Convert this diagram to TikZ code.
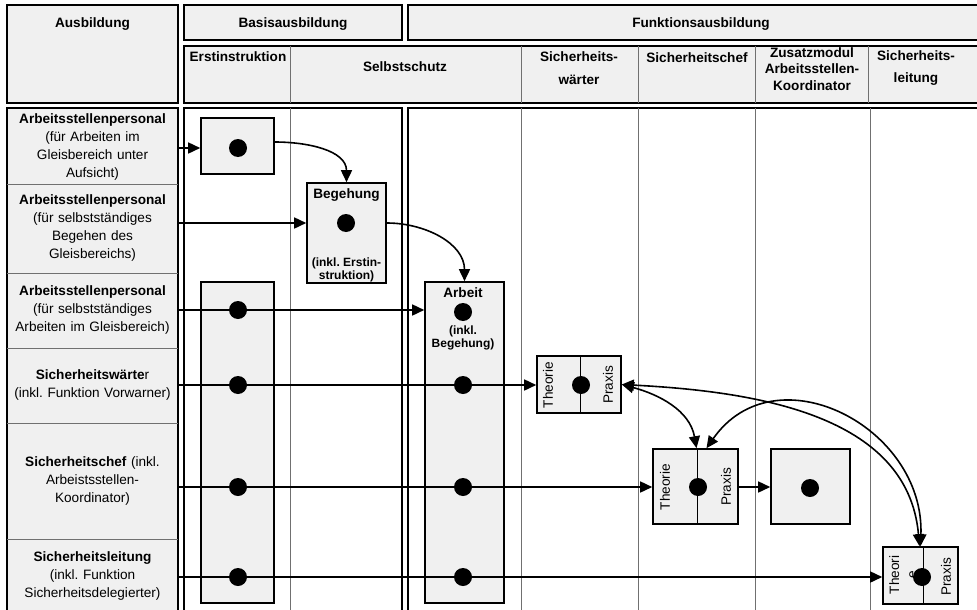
\documentclass[tikz,border=0pt]{standalone}
\usepackage{fontspec}
\setmainfont{Liberation Sans}
\usetikzlibrary{arrows.meta}
\definecolor{panelgray}{HTML}{F0F0F0}
\definecolor{linegray}{HTML}{707070}

\begin{document}
\frenchspacing
\begin{tikzpicture}[x=1pt, y=-1pt, font=\fontsize{13.6}{17.7}\selectfont,
        panel/.style={draw, line width=1.6pt},
        grid line/.style={draw=linegray, line width=0.9pt},
        head node/.style={font=\fontsize{13.6}{16.7}\selectfont\bfseries, align=center, inner sep=0},
        row node/.style={text width=165pt, inner sep=3pt, align=center},
        box node/.style={draw, line width=1.6pt, fill=panelgray, inner sep=0},
        dot node/.style={circle, fill=black, minimum size=18pt, inner sep=0},
        title node/.style={font=\fontsize{13.6}{16}\selectfont\bfseries, inner sep=0},
        note node/.style={font=\fontsize{12}{13}\selectfont\bfseries, align=center, inner sep=0},
        arr/.style={-{Triangle[length=12pt,width=11pt]}, line width=1.6pt},
        both arr/.style={{Triangle[length=12pt,width=11pt]}-{Triangle[length=12pt,width=11pt]}, line width=1.6pt}]

                \useasboundingbox (0,0) rectangle (977,610);

                \path[panel, fill=panelgray] (7,5) rectangle (178,103);
                \path[panel, fill=panelgray] (184,5) rectangle (402,40);
                \path[panel, fill=panelgray] (408,5) rectangle (995,40);
                \path[panel, fill=panelgray] (184,46) rectangle (995,103);
                \path[panel, fill=panelgray] (7,108) rectangle (178,625);
                \path[panel, fill=white] (184,108) rectangle (402,625);
                \path[panel, fill=white] (408,108) rectangle (995,625);

                \foreach \x in {290,521,638,755,868}
                    \draw[grid line] (\x,46) -- (\x,103);
                \draw[grid line] (290,108) -- (290,625);
                \foreach \x in {521,638,755,870}
                    \draw[grid line] (\x,108) -- (\x,625);
                \foreach \y in {184,273,348,423,539}
                    \draw[grid line] (7,\y) -- (178,\y);

                \node[head node] (ausbildung) at (92.5,24) {Ausbildung};
                \node[head node] (basis) at (293,24) {Basisausbildung};
                \node[head node] (funktion) at (701,24) {Funktionsausbildung};
                \node[head node] (hErst) at (238,57) {Erstinstruktion};
                \node[head node] (hSelbst) at (405,67) {Selbstschutz};
                \node[head node] (hSW) at (579,68) {Sicherheits-\\[6pt]wärter};
                \node[head node] (hSC) at (697,58) {Sicherheitschef};
                \node[head node] (hZus) at (812,69) {Zusatzmodul\\Arbeitsstellen-\\Koordinator};
                \node[head node] (hSL) at (916,68) {Sicherheits-\\[6pt]leitung};

                \node[row node] (r1) at (92.5,147) {\textbf{Arbeitsstellenpersonal}\\(für Arbeiten im\\Gleisbereich unter\\Aufsicht)};
                \node[row node] (r2) at (92.5,228) {\textbf{Arbeitsstellenpersonal}\\(für selbstständiges\\Begehen des\\Gleisbereichs)};
                \node[row node] (r3) at (92.5,310) {\textbf{Arbeitsstellenpersonal}\\(für selbstständiges\\Arbeiten im Gleisbereich)};
                \node[row node] (r4) at (92.5,385) {\textbf{Sicherheitswärte}r\\(inkl. Funktion Vorwarner)};
                \node[row node] (r5) at (92.5,481) {\textbf{Sicherheitschef} (inkl.\\Arbeistsstellen-\\Koordinator)};
                \node[row node] (r6) at (92.5,576) {\textbf{Sicherheitsleitung}\\(inkl. Funktion\\Sicherheitsdelegierter)};

                \node[box node, minimum width=73pt, minimum height=56pt] (erst1) at (237.5,146) {};
                \node[box node, minimum width=79pt, minimum height=100pt] (begehung) at (346.5,233) {};
                \node[box node, minimum width=73pt, minimum height=321pt] (erst2) at (237.5,442.5) {};
                \node[box node, minimum width=79pt, minimum height=321pt] (arbeit) at (464.5,442.5) {};
                \node[box node, minimum width=84pt, minimum height=57pt] (sw) at (579,384.5) {};
                \node[box node, minimum width=85pt, minimum height=75pt] (sc) at (695.5,486.5) {};
                \node[box node, minimum width=79pt, minimum height=75pt] (zus) at (810.5,486.5) {};
                \node[box node, minimum width=75pt, minimum height=57pt] (sl) at (920.5,575.5) {};

                \draw[line width=0.9pt] ([xshift=1pt]sw.north) -- ([xshift=1pt]sw.south);
                \draw[line width=0.9pt] ([xshift=1.5pt]sc.north) -- ([xshift=1.5pt]sc.south);
                \draw[line width=0.9pt] ([xshift=2.5pt]sl.north) -- ([xshift=2.5pt]sl.south);

                \node[title node] (begTitle) at (346.5,195) {Begehung};
                \node[note node] (begNote) at (346.5,270) {(inkl. Erstin-\\struktion)};
                \node[title node] (arbTitle) at (463,293) {Arbeit};
                \node[note node] (arbNote) at (463,338) {(inkl.\\Begehung)};

                \node[rotate=90] (swT) at (548,385) {Theorie};
                \node[rotate=90] (swP) at (608,385) {Praxis};
                \node[rotate=90] (scT) at (665,487) {Theorie};
                \node[rotate=90] (scP) at (726,487) {Praxis};
                \node[rotate=90, align=center] (slT) at (903,575) {Theori\\e};
                \node[rotate=90] (slP) at (946,577) {Praxis};

                \node[dot node] (d1) at (238,148) {};
                \node[dot node] (dbeg) at (346,223) {};
                \node[dot node] (darb) at (463,312) {};
                \node[dot node] (de3) at (238,310) {};
                \node[dot node] (de4) at (238,385) {};
                \node[dot node] (de5) at (238,487) {};
                \node[dot node] (de6) at (238,577) {};
                \node[dot node] (da4) at (463,385) {};
                \node[dot node] (da5) at (463,487) {};
                \node[dot node] (da6) at (463,577) {};
                \node[dot node] (dsw) at (581,385) {};
                \node[dot node] (dsc) at (698,487) {};
                \node[dot node] (dzus) at (810,488) {};
                \node[dot node] (dsl) at (922,577) {};

                \path[arr] (r1.east |- d1) edge (erst1.west |- d1);
                \path[arr] (r2.east |- dbeg) edge (begehung.west |- dbeg);
                \path[arr] (r3.east |- de3) edge (arbeit.west |- de3);
                \path[arr] (r4.east |- de4) edge (sw.west |- de4);
                \path[arr] (r5.east |- de5) edge (sc.west |- de5);
                \path[arr] (r6.east |- de6) edge (sl.west |- de6);
                \path[arr] (sc.east |- dsc) edge (zus.west |- dsc);
                \path[arr] ([yshift=4pt]erst1.east) edge[out=0, in=90] (begehung.north);
                \path[arr] (dbeg -| begehung.east) edge[out=0, in=90] (arbeit.north);
                \path[both arr] (sw.east) edge[out=-15, in=100] ([xshift=1pt]sc.north);
                \path[both arr] (sw.east) edge[out=-3, in=95] ([xshift=-1pt]sl.north);
                \path[both arr] ([xshift=11pt]sc.north) edge[out=55, in=88, looseness=1.3] (sl.north);
            \end{tikzpicture}
\end{document}
